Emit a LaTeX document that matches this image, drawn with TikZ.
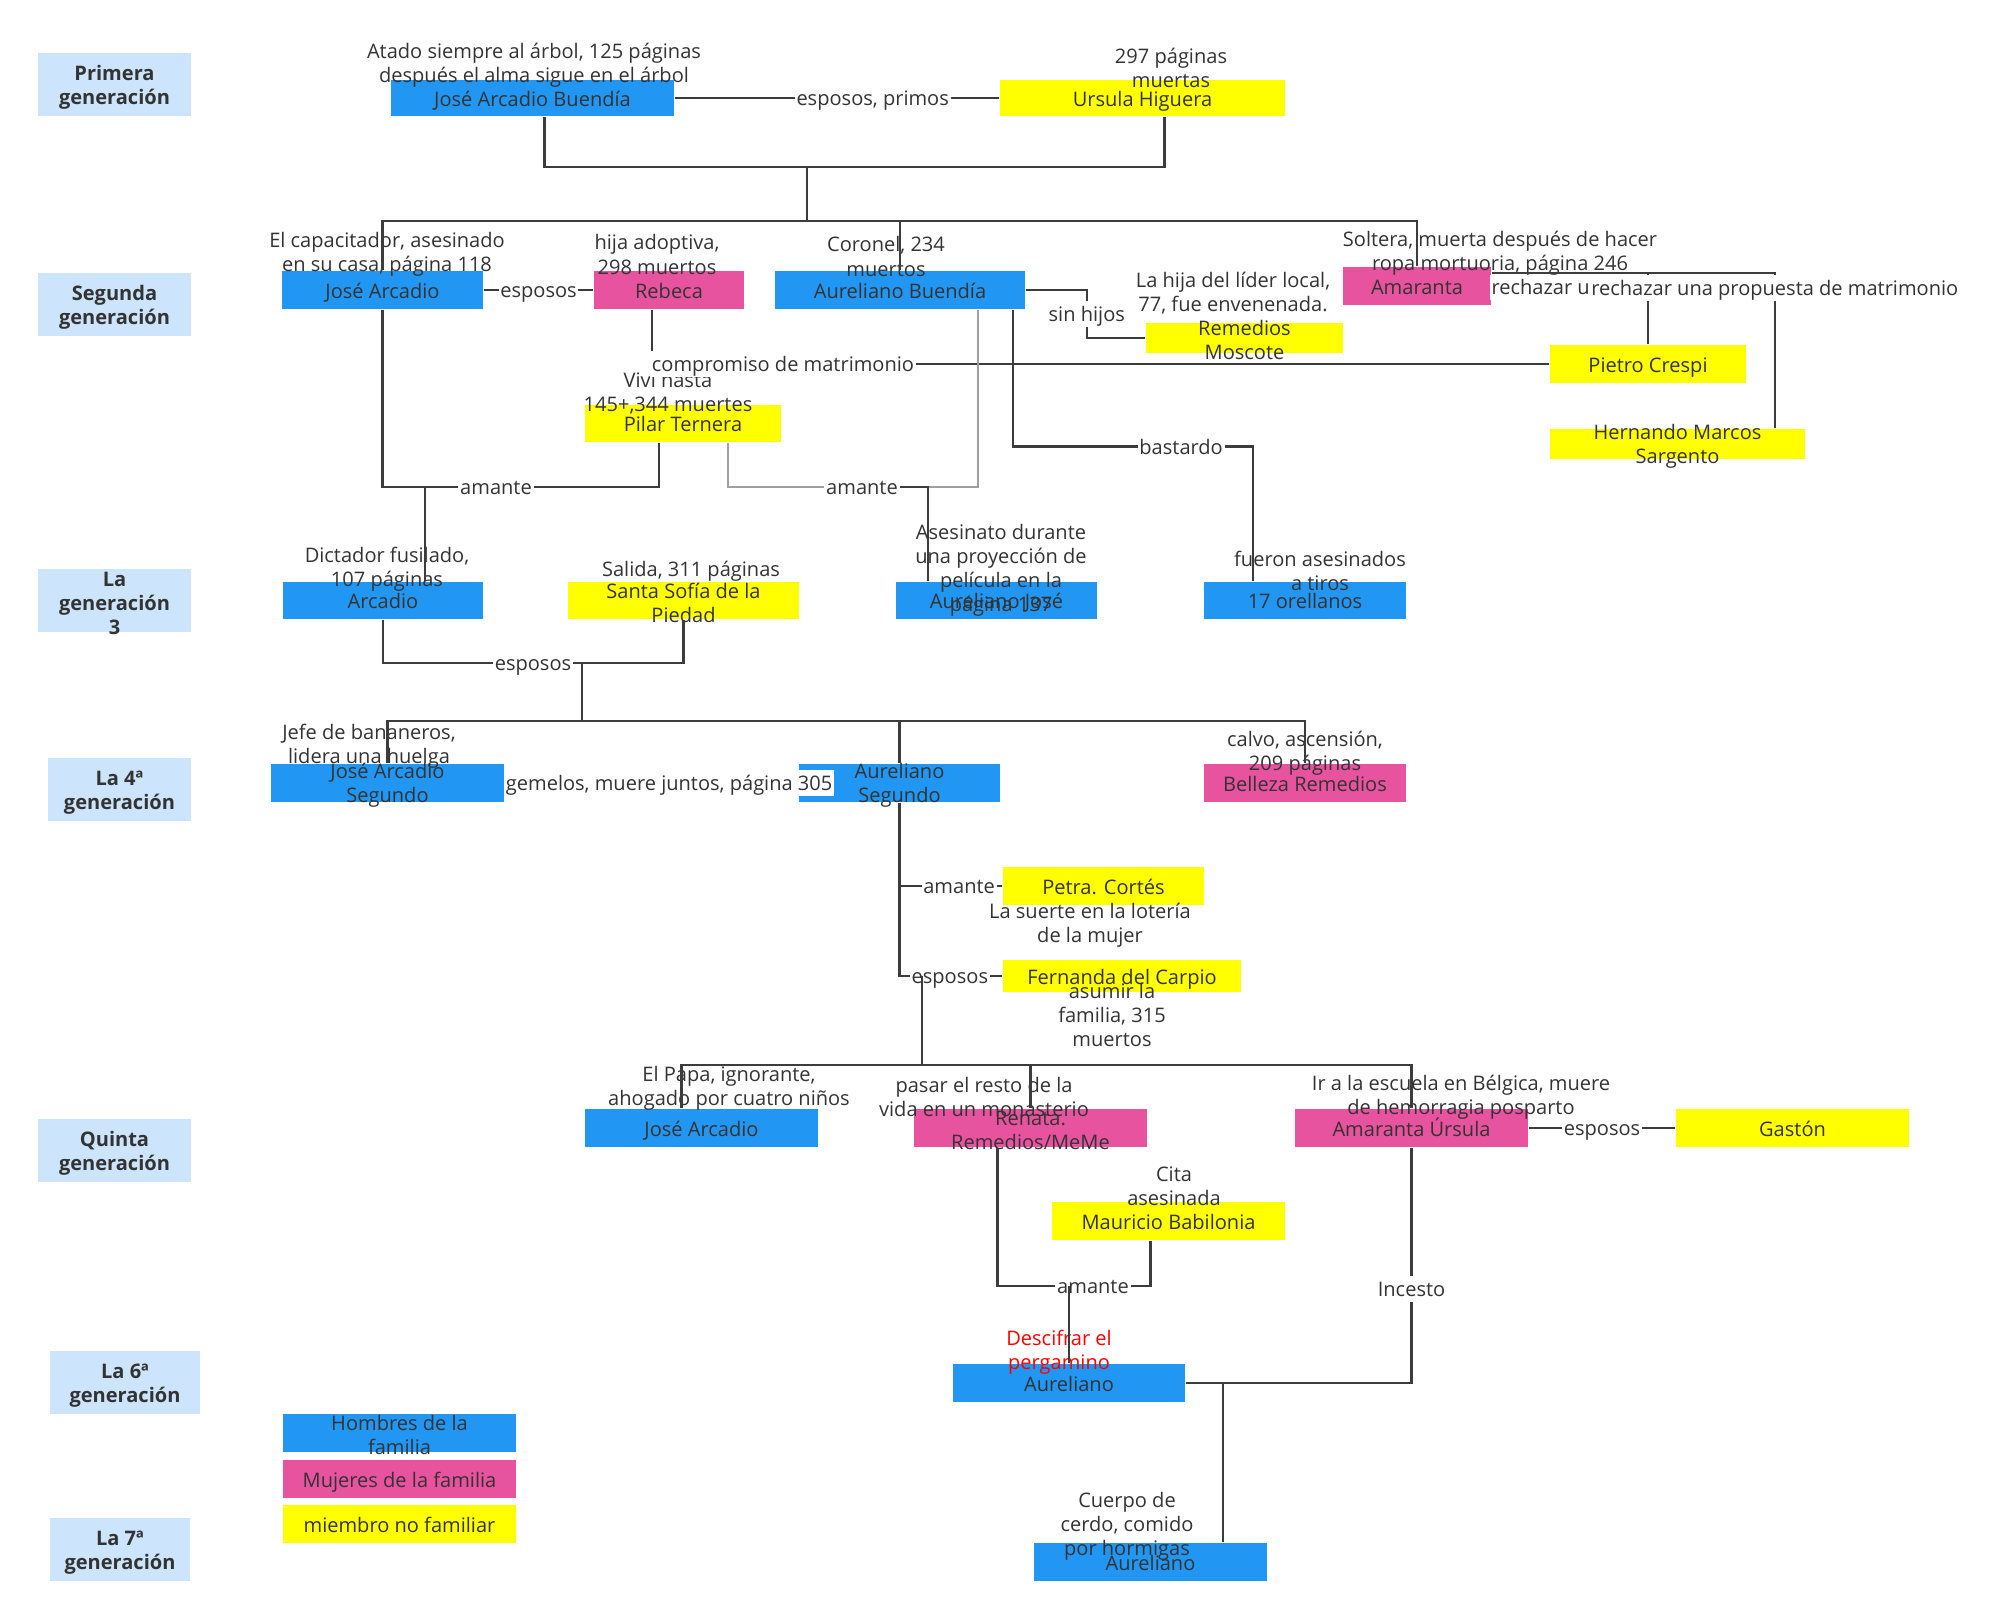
\documentclass[tikz,border=0pt]{standalone}
\usepackage{fontspec}
\setmainfont{Open Sans}
\usetikzlibrary{calc}
\definecolor{hblue}{HTML}{2196F3}
\definecolor{mpink}{HTML}{E8539F}
\definecolor{ylw}{HTML}{FFFF00}
\definecolor{genbg}{HTML}{CCE5FC}
\definecolor{txtc}{HTML}{333333}
\definecolor{linec}{HTML}{3C3C3C}
\definecolor{grayl}{HTML}{A0A0A0}
\newcommand\dsize{\fontsize{5.7}{6.85}\selectfont}

\begin{document}
\begin{tikzpicture}[x=.01cm,y=-.01cm,font=\dsize,text=txtc,
  ln/.style={draw=linec,line width=.7pt},
  gl/.style={draw=grayl,line width=.45pt},
  lbl/.style={fill=white,inner sep=.5pt,text height=5.2pt,text depth=1pt},
  nota/.style={align=center,inner sep=0pt,yshift=-.03cm},
  tx/.style={label={[nota,yshift=.01cm]center:#1}},
  gen/.style={fill=genbg,inner sep=0pt,minimum width=1.53cm,minimum height=.63cm,label={[nota,font=\dsize\bfseries]center:#1}},
  hombre/.style={fill=hblue,inner sep=0pt,minimum width=2.33cm,minimum height=.38cm,text height=4.6pt,text depth=0pt},
  mujer/.style={hombre,fill=mpink},
  otro/.style={hombre,fill=ylw}]
\useasboundingbox (0,0) rectangle (1995,1618);

\node[gen={Primera\\generación}] (g1) at (114.5,84.5) {};
\node[gen={Segunda\\generación}] (g2) at (114.5,304.5) {};
\node[gen={La\\generación\\3}] (g3) at (114.5,600.5) {};
\node[gen={La 4ª\\generación},minimum width=1.43cm] (g4) at (119.5,789.5) {};
\node[gen={Quinta\\generación}] (g5) at (114.5,1150.5) {};
\node[gen={La 6ª\\generación},minimum width=1.5cm] (g6) at (125,1382.5) {};
\node[gen={La 7ª\\generación},minimum width=1.4cm] (g7) at (120,1549.5) {};

\node[hombre,minimum width=2.83cm,minimum height=.36cm] (jab) at (532.5,98) {José Arcadio Buendía};
\node[otro,minimum width=2.85cm,minimum height=.36cm] (urs) at (1142.5,98) {Ursula Higuera};
\node[hombre,minimum width=2.01cm] (ja) at (382.5,290) {José Arcadio};
\node[mujer,minimum width=1.5cm] (reb) at (669,290) {Rebeca};
\node[hombre,minimum width=2.5cm] (ab) at (900,290) {Aureliano Buendía};
\node[mujer,minimum width=1.48cm] (ama) at (1417,286) {Amaranta};
\node[otro,minimum width=1.97cm,minimum height=.3cm,tx={Remedios\\Moscote}] (rm) at (1244.5,338) {};
\node[otro,minimum width=1.96cm] (pc) at (1648,364) {Pietro Crespi};
\node[otro,minimum width=2.55cm,minimum height=.3cm,tx={Hernando Marcos\\Sargento}] (hms) at (1677.5,444) {};
\node[otro,minimum width=1.96cm,minimum height=.37cm] (pil) at (683,423.5) {Pilar Ternera};
\node[hombre,minimum width=2cm,minimum height=.37cm] (arc) at (383,600.5) {Arcadio};
\node[otro,minimum width=2.31cm,minimum height=.37cm,tx={Santa Sofía de la\\Piedad}] (ssp) at (683.5,600.5) {};
\node[hombre,minimum width=2.01cm,minimum height=.37cm] (aj) at (996.5,600.5) {Aureliano José};
\node[hombre,minimum width=2.02cm,minimum height=.37cm] (orl) at (1305,600.5) {17 orellanos};
\node[hombre,tx={José Arcadio\\Segundo}] (jas) at (387.5,783) {};
\node[hombre,minimum width=2.01cm,tx={Aureliano\\Segundo}] (aseg) at (899.5,783) {};
\node[mujer,minimum width=2.02cm] (br) at (1305,783) {Belleza Remedios};
\node[otro,minimum width=2.01cm] (pet) at (1103.5,886) {Petra. Cortés};
\node[otro,minimum width=2.38cm,minimum height=.32cm] (fer) at (1122,976) {Fernanda del Carpio};
\node[hombre] (ja5) at (701.5,1128) {José Arcadio};
\node[mujer,tx={Renata.\\Remedios/MeMe}] (ren) at (1030.5,1128) {};
\node[mujer] (au) at (1411.5,1128) {Amaranta Úrsula};
\node[otro] (gas) at (1792.5,1128) {Gastón};
\node[otro] (mb) at (1168.5,1221) {Mauricio Babilonia};
\node[hombre,minimum width=2.32cm] (au6) at (1069,1383) {Aureliano};
\node[hombre] (au7) at (1150.5,1562) {Aureliano};
\node[hombre,tx={Hombres de la\\familia}] (lh) at (399.5,1433) {};
\node[mujer] (lm) at (399.5,1479) {Mujeres de la familia};
\node[otro] (lo) at (399.5,1524) {miembro no familiar};

\node[nota] (n1) at (534,62.5) {Atado siempre al árbol, 125 páginas\\después el alma sigue en el árbol};
\node[nota] (n2) at (1171,65) {297 páginas\\muertas};
\node[nota] (n3) at (387,251.5) {El capacitador, asesinado\\en su casa, página 118};
\node[nota] (n4) at (657,251.5) {hija adoptiva,\\298 muertos};
\node[nota] (n5) at (886,253.5) {Coronel, 234\\muertos};
\node[nota] (n6) at (1500,250) {Soltera, muerta después de hacer\\ropa mortuoria, página 246};
\node[nota] (n7) at (1233,290.5) {La hija del líder local,\\77, fue envenenada.};
\node[nota] (n8) at (668,390) {Vivi hasta\\145+,344 muertes};
\node[nota] (n9) at (387,566.5) {Dictador fusilado,\\107 páginas};
\node[nota] (n10) at (691,568) {Salida, 311 páginas};
\node[nota] (n11) at (1001,567) {Asesinato durante\\una proyección de\\película en la\\página 137};
\node[nota] (n12) at (1320,568) {fueron asesinados\\a tiros};
\node[nota] (n13) at (369,743.5) {Jefe de bananeros,\\lidera una huelga};
\node[nota] (n14) at (1305,750) {calvo, ascensión,\\209 páginas};
\node[nota] (n15) at (1090,922) {La suerte en la lotería\\de la mujer};
\node[nota] (n16) at (1112,1012) {asumir la\\familia, 315\\muertos};
\node[nota] (n17) at (729,1085.5) {El Papa, ignorante,\\ahogado por cuatro niños};
\node[nota] (n18) at (984,1094) {pasar el resto de la\\vida en un monasterio};
\node[nota] (n19) at (1461,1094) {Ir a la escuela en Bélgica, muere\\de hemorragia posparto};
\node[nota] (n20) at (1174,1183) {Cita\\asesinada};
\node[nota,text=red] (n21) at (1059,1349.5) {Descifrar el\\pergamino};
\node[nota] (n22) at (1127,1523) {Cuerpo de\\cerdo, comido\\por hormigas};

\draw[ln] (jab) -- node[lbl,pos=.61]{esposos, primos} (urs);
\coordinate (p1) at (807,167);
\coordinate (c1) at (807,221);
\draw[ln] ($(jab.south)+(12,0)$) |- (p1) -| ($(urs.south)+(22,0)$);
\draw[ln] (p1) -- (c1);
\draw[ln] (ja.north) |- (c1) -| (ama.north);
\draw[ln] (c1 -| ab.north) -- (ab.north);
\draw[ln] (ja) -- node[lbl]{esposos} (reb);
\draw[ln] ($(reb.south)+(-17,0)$) |- node[lbl,pos=.573]{compromiso de matrimonio} (pc.west);
\draw[ln] (ab.east) -- ++(61,0) |- node[lbl,pos=.25]{sin hijos} (rm.west);
\draw[ln] ($(ab.south east)+(-13,0)$) -- ++(0,137) -| node[lbl,pos=.35]{bastardo} ($(orl.north west)+(50,0)$);
\draw[ln] ($(ama.east)+(0,-13)$) -| node[lbl,pos=.6,xshift=.27cm]{rechazar una propuesta de matrimonio} (pc.north);
\draw[ln] ($(ama.east)+(0,-13)$) -| node[lbl,pos=.548]{rechazar una propuesta de matrimonio} ($(hms.north east)+(-31,0)$);

\coordinate (m1) at (496,487);
\coordinate (m2) at (862,487);
\draw[ln] (ja.south) |- (m1) -| ($(pil.south)+(-24,0)$);
\draw[ln] (m1) -| ($(arc.north west)+(143,0)$);
\draw[gl] ($(pil.south)+(45,0)$) |- (m2) -| ($(ab.south)+(78,0)$);
\draw[ln] (m2) -| ($(aj.north west)+(33,0)$);
\node[lbl] (l1) at (m1) {amante};
\node[lbl] (l2) at (m2) {amante};

\coordinate (m3) at (533,663);
\coordinate (c3) at (582,721);
\draw[ln] (arc.south) |- (m3) -| (ssp.south);
\draw[ln] (m3) -| (c3);
\draw[ln] (jas.north) |- (c3) -| (br.north);
\draw[ln] (c3 -| aseg.north) -- (aseg.north);
\node[lbl] (l3) at (m3) {esposos};

\draw[ln] (jas) -- node[lbl,pos=.56]{gemelos, muere juntos, página 305} (aseg);
\draw[ln] (aseg.south) |- node[lbl,pos=.79]{amante} (pet.west);
\draw[ln] (aseg.south) |- node[lbl,pos=.745]{esposos} (fer.west);
\coordinate (m4) at (922,976);
\coordinate (c5) at (922,1065);
\draw[ln] (m4) -- (c5);
\draw[ln] ($(ja5.north)+(-20,0)$) |- (c5) -| (au.north);
\draw[ln] (c5 -| ren.north) -- (ren.north);

\draw[ln] (au) -- node[lbl]{esposos} (gas);
\coordinate (m5) at (1093,1286);
\draw[ln] ($(ren.south)+(-33,0)$) |- (m5) -| ($(mb.south)+(-18,0)$);
\node[lbl] (l5) at (m5) {amante};
\draw[ln] (m5 -| au6.north) -- (au6.north);
\draw[ln] (au.south) |- node[lbl,pos=.3]{Incesto} (au6.east);
\draw[ln] ($(au6.east)+(37,0)$) -- ($(au7.north east)+(-45,0)$);
\end{tikzpicture}
\end{document}
